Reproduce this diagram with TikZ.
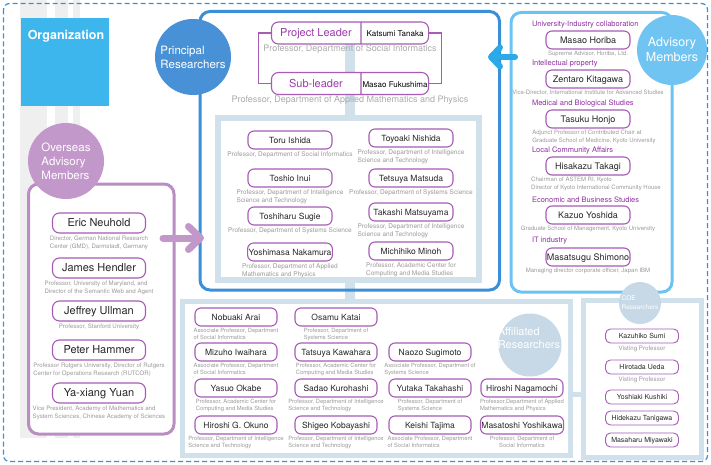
\documentclass[tikz,border=0pt]{standalone}
\usepackage{fontspec}
\setmainfont{TeX Gyre Heros}
\usetikzlibrary{positioning,arrows.meta,shapes.multipart,backgrounds}
\definecolor{orgblue}{HTML}{3DB6EE}
\definecolor{pblue}{HTML}{3B8ED8}
\definecolor{pcircle}{HTML}{4891D6}
\definecolor{advblue}{HTML}{6BC3F2}
\definecolor{advcircle}{HTML}{70C4F2}
\definecolor{advarrow}{HTML}{2AAAE8}
\definecolor{ovpurple}{HTML}{BA8DC3}
\definecolor{ovcircle}{HTML}{C297C9}
\definecolor{lightframe}{HTML}{D0E1EB}
\definecolor{affcircle}{HTML}{C7D9E6}
\definecolor{mpurple}{HTML}{A75BB6}
\definecolor{rolepurple}{HTML}{9C3CAC}
\definecolor{catpurple}{HTML}{8F2EA0}
\definecolor{descgray}{HTML}{9A9A9A}
\definecolor{pdescgray}{HTML}{ABABAB}
\definecolor{stripe}{HTML}{EFEFEF}
\definecolor{borderblue}{HTML}{3A8ED8}
\newcommand\rolestrut{\rule[-7pt]{0pt}{22pt}}
\tikzset{
	every node/.style={inner sep=1pt, outer sep=0pt, align=center},
	member/.style={draw=mpurple, line width=1.1pt, rounded corners=6pt, fill=white, text=black!85, minimum height=18pt, text depth=0pt},
	inmember/.style={member, minimum width=84pt, text height=6.1pt, font=\fontsize{8.5}{10}\selectfont},
	advmember/.style={member, minimum width=84pt, text height=6.5pt, font=\fontsize{9}{11}\selectfont},
	ovmember/.style={member, minimum width=93pt, minimum height=20pt, rounded corners=7pt, text height=7.9pt, font=\fontsize{11}{13}\selectfont},
	affmember/.style={member, minimum width=82pt, text height=6.1pt, font=\fontsize{8.5}{10}\selectfont},
	coemember/.style={member, line width=0.9pt, minimum width=73pt, minimum height=14pt, rounded corners=5pt, text height=5pt, font=\fontsize{7}{8}\selectfont},
	rolebox/.style={rectangle split, rectangle split horizontal, rectangle split parts=2, draw=mpurple, line width=1.1pt, rounded corners=7pt, fill=white, inner xsep=0pt, inner ysep=0pt},
	desc/.style={text=descgray, align=left},
	pdesc/.style={text=pdescgray, font=\fontsize{9}{11}\selectfont},
	indesc/.style={desc, font=\fontsize{6.5}{8}\selectfont},
	advdesc/.style={desc, font=\fontsize{6}{7.5}\selectfont},
	ovdesc/.style={desc, font=\fontsize{6.1}{8}\selectfont},
	affdesc/.style={desc, font=\fontsize{5.8}{7}\selectfont},
	coedesc/.style={desc, font=\fontsize{6.2}{7}\selectfont},
	cat/.style={text=catpurple, anchor=west, font=\fontsize{7.5}{9}\selectfont},
	groupcircle/.style={circle, text=white, inner sep=0pt, font=\fontsize{11.5}{14}\selectfont},
	pframe/.style={draw=pblue, line width=3pt, rounded corners=10pt},
	aframe/.style={draw=advblue, line width=3pt, rounded corners=10pt},
	oframe/.style={draw=ovpurple, line width=3pt, rounded corners=10pt, fill=white},
	lframe/.style={draw=lightframe, line width=5pt, fill=white},
	pline/.style={draw=mpurple, line width=1.1pt},
	spine/.style={draw=lightframe, line width=10pt},
	lconn/.style={draw=lightframe, line width=5pt},
	ovarrow/.style={draw=ovcircle, line width=7pt, line cap=round, -{Straight Barb[length=12pt, width=23pt, round]}},
	advarrowline/.style={draw=advarrow, line width=6pt, line cap=round, -{Straight Barb[length=9pt, width=19pt, round]}}
}
\begin{document}
\begin{tikzpicture}[x=1pt, y=-1pt]
	\useasboundingbox (0,0) rectangle (711,465);
	
	\node(orgbox)[fill=orgblue, minimum width=88pt, minimum height=88pt] at (65,62) {};
	\node(orgtitle)[text=white, font=\fontsize{12.5}{14}\selectfont\bfseries] at (66,36) {Organization};
	
	\node(pbox)[pframe, minimum width=299.5pt, minimum height=278.5pt] at (349.75,150.75) {};
	\node(innerframe)[lframe, line width=5.5pt, minimum width=261pt, minimum height=162pt] at (348.5,199) {};
	\node(affframe)[lframe, minimum width=388pt, minimum height=154pt] at (376,378) {};
	\node(coeframe)[lframe, minimum width=118pt, minimum height=157pt] at (642,378.5) {};
	\node(advbox)[aframe, minimum width=161pt, minimum height=279.5pt] at (591.5,152.25) {};
	\node(ovbox)[oframe, minimum width=145.5pt, minimum height=250pt] at (101.25,309) {};
	
	\node(princ)[groupcircle, fill=pcircle, minimum size=76pt, align=left] at (193,57) {Principal\\Researchers};
	\node(adv)[groupcircle, fill=advcircle, minimum size=70pt, font=\fontsize{12.5}{15}\selectfont] at (672,50) {Advisory\\Members};
	\node(ov)[groupcircle, fill=ovcircle, minimum size=76pt, align=left] at (66,161) {Overseas\\Advisory\\Members};
	\node(affc)[groupcircle, fill=affcircle, minimum size=63pt] at (530,345) {};
	\node(afftitle)[text=white, align=left, font=\fontsize{11}{13}\selectfont] at (529,338) {Affiliated\\Researchers};
	\node(coec)[groupcircle, fill=affcircle, minimum size=42pt, align=left, font=\fontsize{6.5}{9}\selectfont] at (640,303) {COE\\Researchers};
	
	\node(leader)[rolebox] at (350,33) {\makebox[89pt]{\rolestrut\textcolor{rolepurple}{\fontsize{11}{13}\selectfont Project Leader}}\nodepart{two}\makebox[67pt]{\rolestrut\fontsize{8}{10}\selectfont Katsumi Tanaka}};
	\node(leaderD)[pdesc, below=0pt of leader] {Professor, Department of Social Informatics};
	\node(sub)[rolebox] at (350,83.5) {\makebox[89pt]{\rolestrut\textcolor{rolepurple}{\fontsize{11}{13}\selectfont Sub-leader}}\nodepart{two}\makebox[67pt]{\rolestrut\fontsize{8}{10}\selectfont Masao Fukushima}};
	\node(subD)[pdesc, below=0pt of sub] {Professor, Department of Applied Mathematics and Physics};
	
	\node(ishida)[inmember] at (290,140) {Toru Ishida};
	\node(ishidaD)[indesc, below=1.5pt of ishida] {Professor, Department of Social Informatics};
	\node(inui)[inmember] at (290,178) {Toshio Inui};
	\node(inuiD)[indesc, below=1.5pt of inui] {Professor, Department of Intelligence\\Science and Technology};
	\node(sugie)[inmember] at (290,216) {Toshiharu Sugie};
	\node(sugieD)[indesc, below=1.5pt of sugie] {Professor, Department of Systems Science};
	\node(nakamura)[inmember] at (290,252) {Yoshimasa Nakamura};
	\node(nakamuraD)[indesc, below=1.5pt of nakamura] {Professor, Department of Applied\\Mathematics and Physics};
	\node(nishida)[inmember] at (411,138) {Toyoaki Nishida};
	\node(nishidaD)[indesc, below=1.5pt of nishida] {Professor, Department of Intelligence\\Science and Technology};
	\node(matsuda)[inmember] at (411,178) {Tetsuya Matsuda};
	\node(matsudaD)[indesc, below=1.5pt of matsuda] {Professor, Department of Systems Science};
	\node(matsuyama)[inmember] at (411,212) {Takashi Matsuyama};
	\node(matsuyamaD)[indesc, below=1.5pt of matsuyama] {Professor, Department of Intelligence\\Science and Technology};
	\node(minoh)[inmember] at (411,251) {Michihiko Minoh};
	\node(minohD)[indesc, below=1.5pt of minoh] {Professor, Academic Center for\\Computing and Media Studies};
	
	\node(catUI)[cat] at (531,25) {University-Industry collaboration};
	\node(horiba)[advmember] at (588,40) {Masao Horiba};
	\node(horibaD)[advdesc, below=1.5pt of horiba] {Supreme Advisor, Horiba, Ltd.};
	\node(catIP)[cat] at (531,64) {Intellectual property};
	\node(kitagawa)[advmember] at (588,79) {Zentaro Kitagawa};
	\node(kitagawaD)[advdesc, below=1.5pt of kitagawa] {Vice-Director, International Institute for Advanced Studies};
	\node(catMB)[cat] at (531,104) {Medical and Biological Studies};
	\node(honjo)[advmember] at (588,119) {Tasuku Honjo};
	\node(honjoD)[advdesc, below=1.5pt of honjo, xshift=6pt] {Adjunct Professor of Contributed Chair at\\Graduate School of Medicine, Kyoto University};
	\node(catLC)[cat] at (531,151) {Local Community Affairs};
	\node(takagi)[advmember] at (588,166) {Hisakazu Takagi};
	\node(takagiD)[advdesc, below=1.5pt of takagi, xshift=8pt] {Chairman of ASTEM RI, Kyoto\\Director of Kyoto International Community House};
	\node(catEB)[cat] at (531,200) {Economic and Business Studies};
	\node(yoshida)[advmember] at (588,215) {Kazuo Yoshida};
	\node(yoshidaD)[advdesc, below=1.5pt of yoshida] {Graduate School of Management, Kyoto University};
	\node(catIT)[cat] at (531,241) {IT industry};
	\node(shimono)[advmember] at (588,257) {Masatsugu Shimono};
	\node(shimonoD)[advdesc, below=1.5pt of shimono] {Managing director corporate officer, Japan IBM};
	
	\node(neuhold)[ovmember] at (99,223) {Eric Neuhold};
	\node(neuholdD)[ovdesc, below=2pt of neuhold] {Director, German National Research\\Center (GMD), Darmstadt, Germany};
	\node(hendler)[ovmember] at (99,268) {James Hendler};
	\node(hendlerD)[ovdesc, below=2pt of hendler] {Professor, University of Maryland, and\\Director of the Semantic Web and Agent};
	\node(ullman)[ovmember] at (99,311) {Jeffrey Ullman};
	\node(ullmanD)[ovdesc, below=2pt of ullman] {Professor, Stanford University};
	\node(hammer)[ovmember] at (99,350) {Peter Hammer};
	\node(hammerD)[ovdesc, below=2pt of hammer] {Professor Rutgers University, Director of Rutgers\\Center for Operations Research (RUTCOR)};
	\node(yuan)[ovmember] at (99,393) {Ya-xiang Yuan};
	\node(yuanD)[ovdesc, below=2pt of yuan] {Vice President, Academy of Mathematics and\\System Sciences, Chinese Academy of Sciences};
	
	\node(arai)[affmember] at (236,317) {Nobuaki Arai};
	\node(araiD)[affdesc, below=1.5pt of arai] {Associate Professor, Department\\of Social Informatics};
	\node(iwaihara)[affmember] at (236,352) {Mizuho Iwaihara};
	\node(iwaiharaD)[affdesc, below=1.5pt of iwaihara] {Associate Professor, Department\\of Social Informatics};
	\node(okabe)[affmember] at (236,388) {Yasuo Okabe};
	\node(okabeD)[affdesc, below=1.5pt of okabe] {Professor, Academic Center for\\Computing and Media Studies};
	\node(okuno)[affmember] at (236,425) {Hiroshi G. Okuno};
	\node(okunoD)[affdesc, below=1.5pt of okuno] {Professor, Department of Intelligence\\Science and Technology};
	\node(katai)[affmember] at (336,317) {Osamu Katai};
	\node(kataiD)[affdesc, below=1.5pt of katai] {Professor, Department of\\Systems Science};
	\node(kawahara)[affmember] at (336,352) {Tatsuya Kawahara};
	\node(kawaharaD)[affdesc, below=1.5pt of kawahara] {Professor, Academic Center for\\Computing and Media Studies};
	\node(kurohashi)[affmember] at (336,388) {Sadao Kurohashi};
	\node(kurohashiD)[affdesc, below=1.5pt of kurohashi] {Professor, Department of Intelligence\\Science and Technology};
	\node(kobayashi)[affmember] at (336,425) {Shigeo Kobayashi};
	\node(kobayashiD)[affdesc, below=1.5pt of kobayashi] {Professor, Department of Intelligence\\Science and Technology};
	\node(sugimoto)[affmember] at (430,352) {Naozo Sugimoto};
	\node(sugimotoD)[affdesc, below=1.5pt of sugimoto] {Associate Professor, Department of\\Systems Science};
	\node(takahashi)[affmember] at (430,388) {Yutaka Takahashi};
	\node(takahashiD)[affdesc, below=1.5pt of takahashi] {Professor, Department of\\Systems Science};
	\node(tajima)[affmember] at (430,425) {Keishi Tajima};
	\node(tajimaD)[affdesc, below=1.5pt of tajima] {Associate Professor, Department\\of Social Informatics};
	\node(nagamochi)[affmember] at (522,388) {Hiroshi Nagamochi};
	\node(nagamochiD)[affdesc, below=1.5pt of nagamochi] {Professor,Department of Applied\\Mathematics and Physics};
	\node(yoshikawa)[affmember] at (522,425) {Masatoshi Yoshikawa};
	\node(yoshikawaD)[affdesc, align=center, below=1.5pt of yoshikawa] {Professor, Department of\\Social Informatics};
	
	\node(sumi)[coemember] at (642,336) {Kazuhiko Sumi};
	\node(sumiD)[coedesc, below=2pt of sumi] {Visting Professor};
	\node(ueda)[coemember] at (642,367) {Hirotada Ueda};
	\node(uedaD)[coedesc, below=2pt of ueda] {Visting Professor};
	\node(kushiki)[coemember] at (642,397) {Yoshiaki Kushiki};
	\node(tanigawa)[coemember] at (642,418) {Hidekazu Tanigawa};
	\node(miyawaki)[coemember] at (642,440) {Masaharu Miyawaki};
	
	\draw[pline] (leader.west) -- ++(-13,0) |- (sub.west);
	\draw[pline] (leader.east) -- ++(13,0) |- (sub.east);
	\draw[lconn] ([shift={(0,16)}]affframe.east) -- ([shift={(0,15.5)}]coeframe.west);
	\draw[ovarrow] ([shift={(-11,-71)}]ovbox.east) -- ([shift={(4,87.25)}]pbox.west);
	\draw[advarrowline] ([shift={(4,-95.25)}]advbox.west) -- ([shift={(-11.5,-93.75)}]pbox.east);
	
	\draw[borderblue, line width=1.2pt, dash pattern=on 5pt off 3pt, rounded corners=6pt] (3.5,3.5) rectangle (707.5,461.5);
	
	\begin{pgfonlayer}{background}
		\fill[stripe] (20,0) rectangle (47,438);
		\fill[stripe] (55,0) rectangle (68,438);
		\fill[stripe] (73,0) rectangle (80,438);
		\draw[spine] (leader.south) -- (leader.south |- affframe.north);
	\end{pgfonlayer}
\end{tikzpicture}
\end{document}
